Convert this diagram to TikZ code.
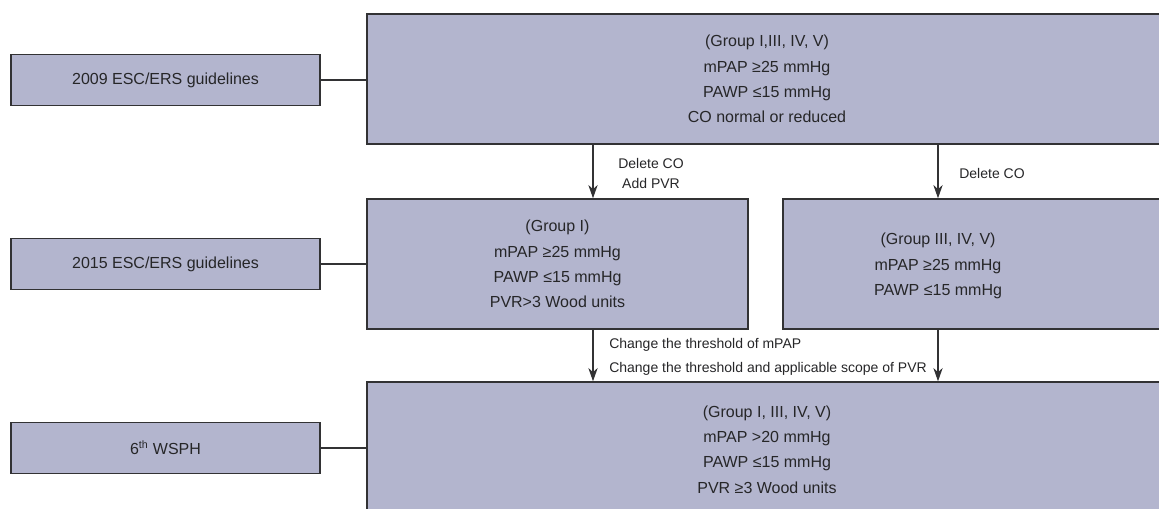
\documentclass[tikz,border=0pt]{standalone}
\usepackage{fontspec}
\setmainfont{Liberation Sans}
\usetikzlibrary{arrows.meta}
\definecolor{boxfill}{RGB}{179,181,206}
\definecolor{boxline}{RGB}{50,50,52}
\definecolor{inktext}{RGB}{38,38,40}
\tikzset{
  box/.style={draw=boxline, fill=boxfill, line width=1.1pt, inner sep=0pt,
    align=center, text=inktext, font=\fontsize{12}{19}\selectfont},
  guide/.style={box, minimum width=231.75pt, minimum height=38.25pt},
  note/.style={text=inktext, inner sep=0pt, font=\fontsize{10.5}{15}\selectfont},
  link/.style={draw=boxline, line width=0.9pt},
  arr/.style={link, -{Stealth[length=10pt,width=7pt]}}
}
\begin{document}
\begin{tikzpicture}[x=0.75pt,y=-0.75pt] %%%{{{
	 \clip (0,0) rectangle (1159,508);
	 % guideline labels on the left
	 \node[guide] (g2009) at (165.5,80)  {2009 ESC/ERS guidelines};
	 \node[guide] (g2015) at (165.5,264) {2015 ESC/ERS guidelines};
	 \node[guide] (gwsph) at (165.5,448) {6\textsuperscript{th} WSPH};
	 % definitions
	 \node[box, minimum width=600pt, minimum height=97.5pt] (def09) at (767,79)
	   {(Group I,III, IV, V)\\mPAP ≥25 mmHg\\PAWP ≤15 mmHg\\CO normal or reduced};
	 \node[box, minimum width=285.75pt, minimum height=97.5pt] (grpI) at (557.5,264)
	   {(Group I)\\mPAP ≥25 mmHg\\PAWP ≤15 mmHg\\PVR>3 Wood units};
	 \node[box, minimum width=288pt, minimum height=97.5pt] (grpR) at (975,264) {};
	 \node[align=center, text=inktext, inner sep=0pt, font=\fontsize{12}{19}\selectfont]
	   (grpRtxt) at (938,266) {(Group III, IV, V)\\mPAP ≥25 mmHg\\PAWP ≤15 mmHg};
	 \node[box, minimum width=600pt, minimum height=101.25pt] (def18) at (767,449.5)
	   {(Group I, III, IV, V)\\mPAP >20 mmHg\\PAWP ≤15 mmHg\\PVR ≥3 Wood units};
	 % links
	 \foreach \a/\b in {g2009/def09,g2015/grpI,gwsph/def18}
	   \draw[link] (\a.east) -- (\a.east -| \b.west);
	 \coordinate (xl) at (593,0);
	 \coordinate (xr) at (938,0);
	 \draw[arr] (xl |- def09.south) -- (xl |- grpI.north);
	 \draw[arr] (xr |- def09.south) -- (xr |- grpR.north);
	 \draw[arr] (xl |- grpI.south) -- (xl |- def18.north);
	 \draw[arr] (xr |- grpR.south) -- (xr |- def18.north);
	 % changes
	 \node[note, align=center] (chg1) at (651,173) {Delete CO\\Add PVR};
	 \node[note] (chg2) at (992,173) {Delete CO};
	 \node[note, align=left, anchor=west, font=\fontsize{10.5}{18}\selectfont] (chg3) at (609,357)
	   {Change the threshold of mPAP\\Change the threshold and applicable scope of PVR};
\end{tikzpicture}
\end{document}
